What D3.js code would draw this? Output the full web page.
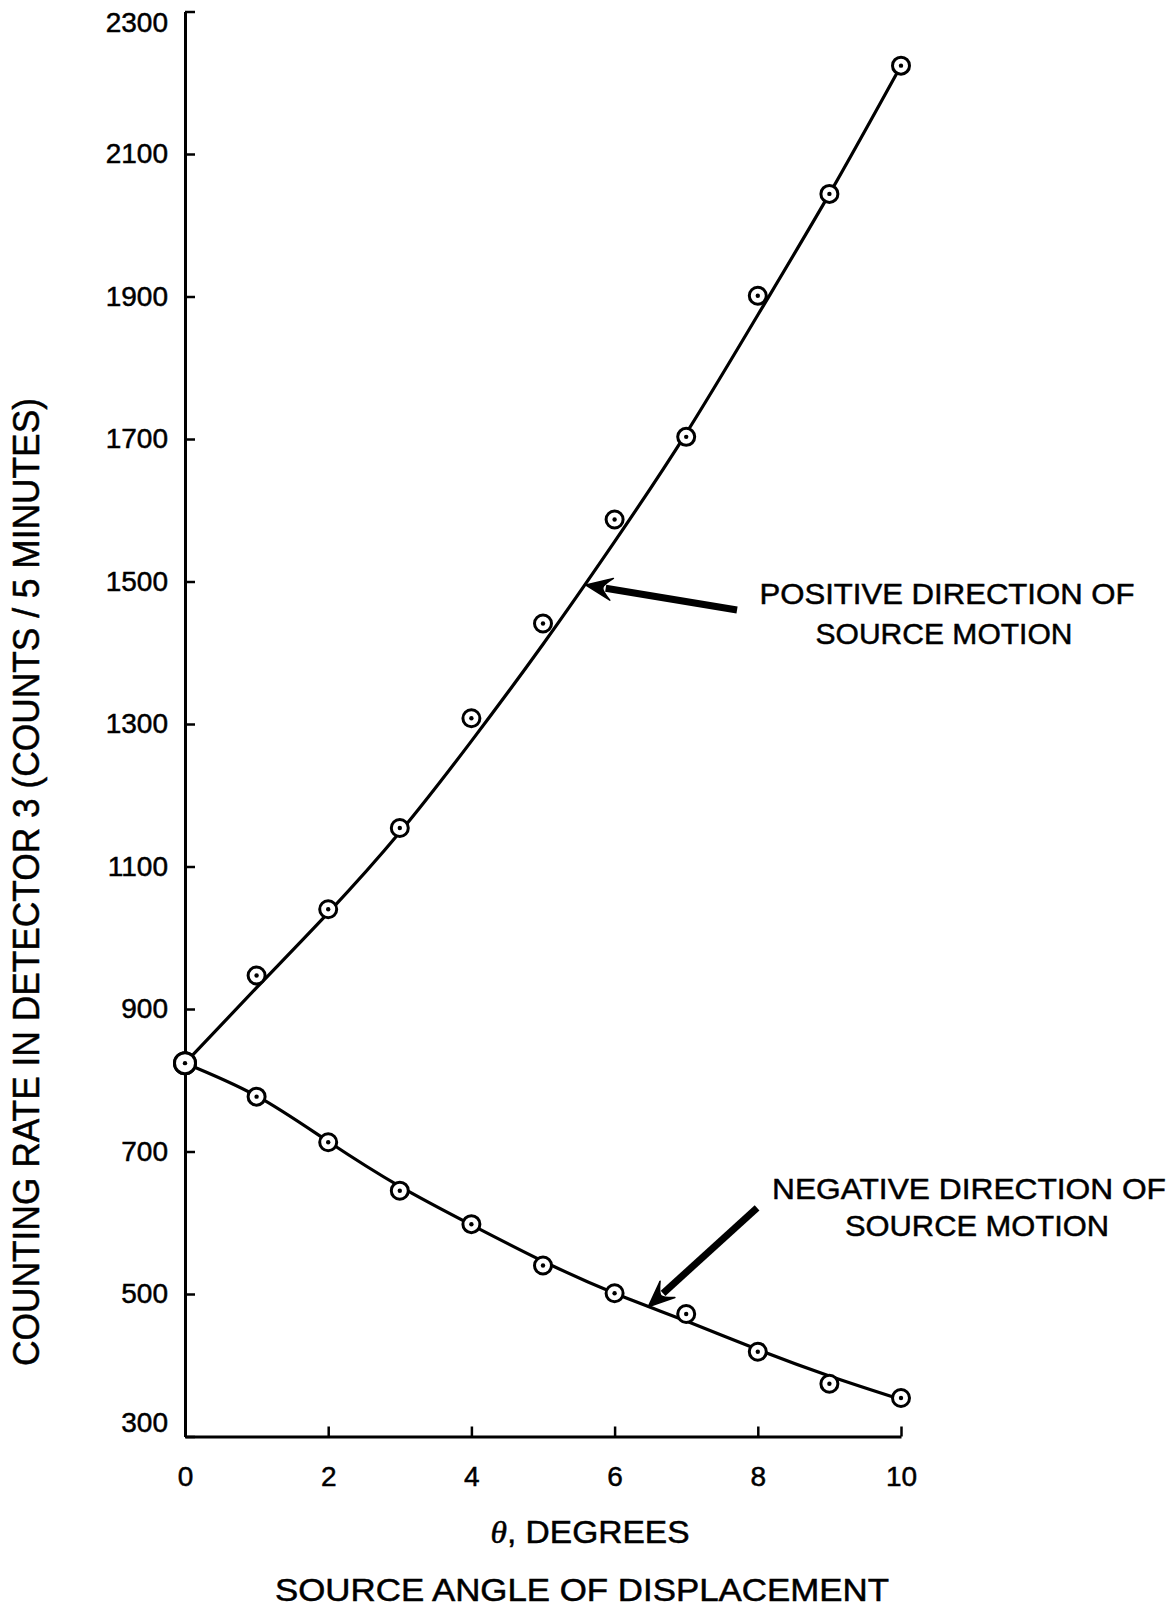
<!DOCTYPE html>
<html>
<head>
<meta charset="utf-8">
<script src="https://cdn.jsdelivr.net/npm/d3@7"></script>
<style>
  body { margin: 0; background: #fff; }
  text { font-family: "Liberation Sans", Arial, sans-serif; fill: #000; stroke: #000; stroke-width: 0.5px; }
</style>
</head>
<body>
<div id="container"></div>
<script>
/* CONSTANTS AND GLOBALS */
const width = 1176,
  height = 1610,
  margin = { top: 11.5, bottom: 173.5, left: 185, right: 275 };

/* DATA */
// source angle, degrees
const angles = [0, 1, 2, 3, 4, 5, 6, 7, 8, 9, 10];
// measured counts / 5 minutes
const positiveCounts = [824, 947, 1040, 1154, 1308, 1441, 1587, 1703, 1901, 2044, 2224];
const negativeCounts = [824, 777, 713, 645, 598, 540, 501, 472, 419, 374, 354];
// smooth curves drawn through the points
const positiveCurve = [824, 930, 1035, 1148, 1276, 1412, 1556, 1708, 1874, 2044, 2224];
const negativeCurve = [824, 778, 714, 651, 597, 546, 501, 462, 422, 385, 352];

const xTicks = [0, 2, 4, 6, 8, 10];
const yTicks = [300, 500, 700, 900, 1100, 1300, 1500, 1700, 1900, 2100, 2300];

/* SCALES */
const xScale = d3.scaleLinear()
  .domain([0, 10])
  .range([margin.left, width - margin.right]);

const yScale = d3.scaleLinear()
  .domain([300, 2300])
  .range([height - margin.bottom, margin.top]);

const svg = d3.select("#container")
  .append("svg")
  .attr("width", width)
  .attr("height", height);

/* AXES */
const xAxis = d3.axisBottom(xScale)
  .tickValues(xTicks)
  .tickSizeInner(-10)
  .tickSizeOuter(0)
  .tickPadding(30)
  .tickFormat(d3.format("d"));

const yAxis = d3.axisLeft(yScale)
  .tickValues(yTicks)
  .tickSizeInner(-10)
  .tickSizeOuter(0)
  .tickPadding(17)
  .tickFormat(d3.format("d"));

const xAxisGroup = svg.append("g")
  .attr("class", "xAxis")
  .attr("transform", `translate(0, ${yScale(300)})`)
  .call(xAxis);

const yAxisGroup = svg.append("g")
  .attr("class", "yAxis")
  .attr("transform", `translate(${xScale(0)}, 0)`)
  .call(yAxis);

[xAxisGroup, yAxisGroup].forEach(g => {
  g.select(".domain").attr("stroke", "#000").attr("stroke-width", 3);
  g.selectAll(".tick line").attr("stroke", "#000").attr("stroke-width", 2.5);
  g.selectAll(".tick text")
    .attr("font-family", "Liberation Sans, Arial, sans-serif")
    .attr("font-size", 28)
    .attr("fill", "#000");
});

// the end labels sit a little inside the axis ends in the original
yAxisGroup.selectAll(".tick text")
  .attr("dy", d => d === 300 ? "-0.18em" : d === 2300 ? "0.72em" : "0.32em");

/* AXIS TITLES */
svg.append("text")
  .attr("transform", `translate(${26}, ${882}) rotate(-90)`)
  .attr("text-anchor", "middle")
  .attr("dy", "0.36em")
  .attr("font-size", 36)
  .attr("textLength", 968)
  .attr("lengthAdjust", "spacingAndGlyphs")
  .text("COUNTING RATE IN DETECTOR 3 (COUNTS / 5 MINUTES)");

const thetaLabel = svg.append("text")
  .attr("x", 590)
  .attr("y", 1543)
  .attr("text-anchor", "middle")
  .attr("font-size", 31)
  .attr("textLength", 199)
  .attr("lengthAdjust", "spacingAndGlyphs");
thetaLabel.append("tspan")
  .attr("font-style", "italic")
  .attr("font-family", "Liberation Serif, serif")
  .text("θ");
thetaLabel.append("tspan").text(", DEGREES");

svg.append("text")
  .attr("x", 582)
  .attr("y", 1601)
  .attr("text-anchor", "middle")
  .attr("font-size", 31)
  .attr("textLength", 614)
  .attr("lengthAdjust", "spacingAndGlyphs")
  .text("SOURCE ANGLE OF DISPLACEMENT");

/* CURVES */
const lineGen = d3.line()
  .x((d, i) => xScale(angles[i]))
  .y(d => yScale(d))
  .curve(d3.curveNatural);

svg.append("path")
  .datum(positiveCurve)
  .attr("class", "linePositive")
  .attr("d", lineGen)
  .attr("fill", "none")
  .attr("stroke", "#000")
  .attr("stroke-width", 3.2);

svg.append("path")
  .datum(negativeCurve)
  .attr("class", "lineNegative")
  .attr("d", lineGen)
  .attr("fill", "none")
  .attr("stroke", "#000")
  .attr("stroke-width", 3.2);

/* POINTS */
const drawPoints = (counts, cls) => {
  const g = svg.append("g").attr("class", cls);
  const pts = g.selectAll("g")
    .data(counts.map((c, i) => ({ angle: angles[i], count: c })))
    .join("g")
    .attr("transform", d => `translate(${xScale(d.angle)}, ${yScale(d.count)})`);
  pts.append("circle")
    .attr("r", d => d.angle === 0 ? 10.5 : 8.5)
    .attr("fill", "#fff")
    .attr("stroke", "#000")
    .attr("stroke-width", 3);
  pts.append("circle")
    .attr("r", 2.2)
    .attr("fill", "#000");
};
drawPoints(negativeCounts, "pointsNegative");
drawPoints(positiveCounts, "pointsPositive");

/* ANNOTATIONS */
const arrows = [
  { tail: [7.71, 1460], tip: [5.6, 1495] },
  { tail: [7.99, 621], tip: [6.47, 482] }
];

arrows.forEach(a => {
  const x0 = xScale(a.tail[0]), y0 = yScale(a.tail[1]);
  const x1 = xScale(a.tip[0]), y1 = yScale(a.tip[1]);
  const ang = Math.atan2(y1 - y0, x1 - x0);
  const headLen = 26, headW = 11;
  const ux = Math.cos(ang), uy = Math.sin(ang);
  const px = -uy, py = ux;
  const bx = x1 - ux * headLen, by = y1 - uy * headLen;
  // shaft
  svg.append("line")
    .attr("x1", x0).attr("y1", y0)
    .attr("x2", x1 - ux * (headLen - 6)).attr("y2", y1 - uy * (headLen - 6))
    .attr("stroke", "#000")
    .attr("stroke-width", 7);
  // barbed head
  const notchX = x1 - ux * (headLen - 9), notchY = y1 - uy * (headLen - 9);
  svg.append("path")
    .attr("d", `M${x1},${y1}
      L${bx + px * headW},${by + py * headW}
      Q${notchX + px * 3},${notchY + py * 3} ${notchX},${notchY}
      Q${notchX - px * 3},${notchY - py * 3} ${bx - px * headW},${by - py * headW}
      Z`)
    .attr("fill", "#000")
    .attr("stroke", "#000")
    .attr("stroke-width", 1.5)
    .attr("stroke-linejoin", "round");
});

const notes = [
  { text: "POSITIVE DIRECTION OF", x: 947, y: 604, len: 375 },
  { text: "SOURCE MOTION", x: 944, y: 644, len: 257 },
  { text: "NEGATIVE DIRECTION OF", x: 969, y: 1199, len: 394 },
  { text: "SOURCE MOTION", x: 977, y: 1236, len: 264 }
];

svg.selectAll(".note")
  .data(notes)
  .join("text")
  .attr("class", "note")
  .attr("x", d => d.x)
  .attr("y", d => d.y)
  .attr("text-anchor", "middle")
  .attr("font-size", 30)
  .attr("textLength", d => d.len)
  .attr("lengthAdjust", "spacingAndGlyphs")
  .text(d => d.text);
</script>
</body>
</html>
